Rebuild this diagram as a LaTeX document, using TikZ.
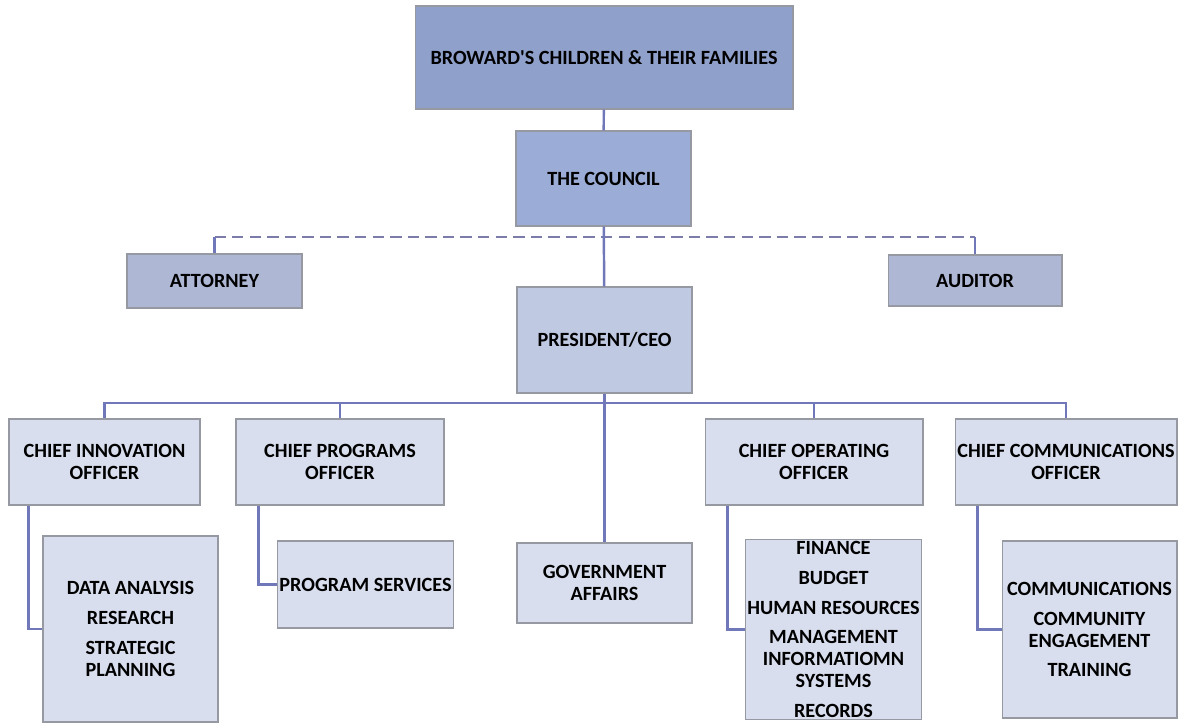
\documentclass[tikz,border=0pt]{standalone}
\usepackage{fontspec}
\setmainfont{Carlito}
\usepackage{tikz}

\definecolor{topblue}{RGB}{143,160,203}
\definecolor{councilblue}{RGB}{155,172,214}
\definecolor{sideblue}{RGB}{174,184,213}
\definecolor{ceoblue}{RGB}{192,201,226}
\definecolor{paleblue}{RGB}{216,222,237}
\definecolor{edgegray}{RGB}{150,152,162}
\definecolor{linkblue}{RGB}{112,120,186}
\definecolor{dashblue}{RGB}{124,124,170}

\begin{document}
\begin{tikzpicture}[x=0.02cm,y=-0.02cm,
    box/.style={draw=edgegray,line width=0.6pt,align=center,inner sep=1pt,
        font=\fontsize{11.5}{12.5}\selectfont\bfseries},
    link/.style={draw=linkblue,line width=1.4pt},
    dashlink/.style={draw=dashblue,line width=1.6pt,dash pattern=on 6.5pt off 3.5pt}]

\useasboundingbox (0,0) rectangle (1186,723);

% top levels
\node[box,fill=topblue,minimum width=7.56cm,minimum height=2.06cm] (fam) at (604,57.5) {BROWARD\textquotesingle S CHILDREN \& THEIR FAMILIES};
\node[box,fill=councilblue,minimum width=3.5cm,minimum height=1.9cm] (council) at (603.5,178.5) {THE COUNCIL};
\node[box,fill=sideblue,minimum width=3.5cm,minimum height=1.08cm] (att) at (214.5,281) {ATTORNEY};
\node[box,fill=sideblue,minimum width=3.48cm,minimum height=1.02cm] (aud) at (975,280.5) {AUDITOR};
\node[box,fill=ceoblue,minimum width=3.5cm,minimum height=2.12cm] (ceo) at (604.5,340) {PRESIDENT/CEO};

% chiefs
\node[box,fill=paleblue,minimum width=3.82cm,minimum height=1.72cm] (cio) at (104.5,462) {CHIEF INNOVATION\\OFFICER};
\node[box,fill=paleblue,minimum width=4.16cm,minimum height=1.72cm] (cpo) at (340,462) {CHIEF PROGRAMS\\OFFICER};
\node[box,fill=paleblue,minimum width=4.36cm,minimum height=1.72cm] (coo) at (814,462) {CHIEF OPERATING\\OFFICER};
\node[box,fill=paleblue,minimum width=4.44cm,minimum height=1.72cm] (cco) at (1066,462) {CHIEF COMMUNICATIONS\\OFFICER};

% departments
\node[box,fill=paleblue,minimum width=3.5cm,minimum height=3.72cm] (data) at (130.5,629) {DATA ANALYSIS\\[4.5pt]RESEARCH\\[4.5pt]STRATEGIC\\PLANNING};
\node[box,fill=paleblue,minimum width=3.5cm,minimum height=1.74cm] (prog) at (365.5,584.5) {PROGRAM SERVICES};
\node[box,fill=paleblue,minimum width=3.5cm,minimum height=1.6cm] (gov) at (604.5,583) {GOVERNMENT\\AFFAIRS};
\node[box,fill=paleblue,minimum width=3.5cm,minimum height=3.54cm] (fin) at (833.5,629.5) {FINANCE\\[4.5pt]BUDGET\\[4.5pt]HUMAN RESOURCES\\[4.5pt]MANAGEMENT\\INFORMATIOMN\\SYSTEMS\\[4.5pt]RECORDS};
\node[box,fill=paleblue,minimum width=3.5cm,minimum height=3.54cm] (comm) at (1089.5,629.5) {COMMUNICATIONS\\[4.5pt]COMMUNITY\\ENGAGEMENT\\[4.5pt]TRAINING};

\coordinate (dash) at (603,237);
\coordinate (bus) at (603,403);

% advisers: dashed
\draw[dashlink] (att.north |- dash) -- (aud.north |- dash);
\draw[link] (att.north) -- (att.north |- dash);
\draw[link] (aud.north) -- (aud.north |- dash);

% main line
\draw[link] (fam) -- (council);
\draw[link] (council) -- (ceo);
\draw[link] (ceo) -- (gov);

% bus to chiefs
\draw[link] (cio.north) |- (bus) -| (cco.north);
\draw[link] (cpo.north) -- (cpo.north |- bus);
\draw[link] (coo.north) -- (coo.north |- bus);

% chiefs to departments
\draw[link] ([xshift=0.4cm]cio.south west) |- (data.west);
\draw[link] ([xshift=0.46cm]cpo.south west) |- (prog.west);
\draw[link] ([xshift=0.46cm]coo.south west) |- (fin.west);
\draw[link] ([xshift=0.46cm]cco.south west) |- (comm.west);

\end{tikzpicture}
\end{document}
